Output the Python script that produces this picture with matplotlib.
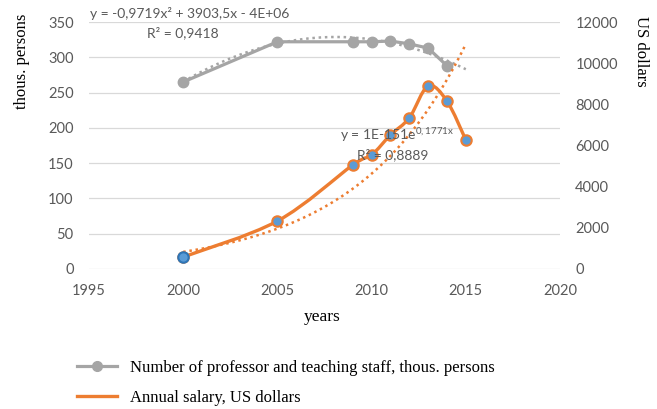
import numpy as np
import matplotlib.pyplot as plt
from matplotlib.path import Path
from matplotlib.patches import PathPatch
from matplotlib.lines import Line2D

plt.rcParams['font.family'] = 'Lato'
plt.rcParams['mathtext.fontset'] = 'custom'
plt.rcParams['mathtext.rm'] = 'Lato'

# staff, thous. persons
staff_years = [2000, 2005, 2009, 2010, 2011, 2012, 2013, 2014]
staff = [265, 322, 322, 322, 323, 319, 313, 288]
# annual salary, US dollars
sal_years = [2000, 2005, 2009, 2010, 2011, 2012, 2013, 2014, 2015]
salary = [583, 2330, 5050, 5540, 6510, 7340, 8890, 8160, 6270]

staff_label = 'Number of professor and teaching staff, thous. persons'
sal_label = 'Annual salary, US dollars'

grey = '#A5A5A5'
orange = '#ED7D31'
blue = '#5B9BD5'
tick_col = '#595959'

fig = plt.figure(figsize=(6.57, 4.09), dpi=100)
ax = fig.add_axes([89/657, 1-269/409, (560-89)/657, (269-22)/409])
ax2 = ax.twinx()

ax.set_xlim(1995, 2020)
ax.set_ylim(0, 350)
ax2.set_ylim(0, 12000)
ax.set_xticks(np.arange(1995, 2021, 5))
ax.set_yticks(np.arange(0, 351, 50))
ax2.set_yticks(np.arange(0, 12001, 2000))
for a in (ax, ax2):
    for s in a.spines.values():
        s.set_visible(False)
    a.tick_params(length=0, labelsize=10.5, labelcolor=tick_col, pad=11)
ax.tick_params(axis='x', pad=11)
ax.grid(axis='y', color='#D9D9D9', lw=0.9)
ax.set_axisbelow(True)

# grey series + polynomial trend
ax.plot(staff_years, staff, color=grey, lw=2.3, marker='o', ms=7.5, zorder=3)
c2 = np.polyfit(staff_years, staff, 2)
xt = np.linspace(2000, 2015, 100)
ax.plot(xt, np.polyval(c2, xt), color=grey, lw=1.8, ls=(0, (1, 1.5)), zorder=2)

# orange series, smoothed
x = np.array(sal_years, float)
y = np.array(salary, float)
px = np.concatenate([[x[0]], x, [x[-1]]])
py = np.concatenate([[y[0]], y, [y[-1]]])
verts = [(x[0], y[0])]
codes = [Path.MOVETO]
for i in range(1, len(px) - 2):
    c1 = (px[i] + (px[i+1] - px[i-1]) / 6, py[i] + (py[i+1] - py[i-1]) / 6)
    c2b = (px[i+1] - (px[i+2] - px[i]) / 6, py[i+1] - (py[i+2] - py[i]) / 6)
    verts += [c1, c2b, (px[i+1], py[i+1])]
    codes += [Path.CURVE4] * 3
ax2.add_patch(PathPatch(Path(verts, codes), fc='none', ec=orange, lw=2.4, zorder=3))
ax2.plot(x, y, ls='none', marker='o', ms=7.5, mfc=blue, mec=orange, mew=1.5, zorder=4)
ax2.plot(x[:1], y[:1], ls='none', marker='o', ms=7.5, mfc=blue, mec='#2E75B6', mew=1.5, zorder=5)

ce = np.polyfit(x, np.log(y), 1)
ax2.plot(xt, np.exp(np.polyval(ce, xt)), color=orange, lw=1.8, ls=(0, (1, 1.5)), zorder=2)

# trend equations
fig.text(90/657, 1-14/409, 'y = -0,9719x² + 3903,5x - 4E+06', fontsize=10,
         color=tick_col, va='center', ha='left')
fig.text(183/657, 1-33/409, 'R² = 0,9418', fontsize=10, color=tick_col,
         va='center', ha='center')
fig.text(340/657, 1-135/409, r'y = 1E-151e$^{\mathrm{0,1771x}}$', fontsize=10,
         color=tick_col, va='center', ha='left', zorder=6)
fig.text(357/657, 1-155/409, 'R² = 0,8889', fontsize=10, color=tick_col,
         va='center', ha='left', zorder=6)

# axis titles
fig.text(22/657, 1-61/409, 'thous. persons', family='Liberation Serif', fontsize=12,
         rotation=90, ha='center', va='center')
fig.text(641/657, 1-51/409, 'US dollars', family='Liberation Serif', fontsize=12,
         rotation=-90, ha='center', va='center')
fig.text(322/657, 1-317/409, 'years', family='Liberation Serif', fontsize=12.5,
         ha='center', va='center')

handles = [Line2D([], [], color=grey, lw=2.3, marker='o', ms=7),
           Line2D([], [], color=orange, lw=2.4)]
fig.legend(handles, [staff_label, sal_label], loc='upper left',
           bbox_to_anchor=(77/657, 1-360/409), frameon=False,
           prop={'family': 'Liberation Serif', 'size': 12},
           handlelength=2.4, handletextpad=0.8, labelspacing=0.85,
           borderpad=0, borderaxespad=0)

fig.savefig('out.png', dpi=100)
